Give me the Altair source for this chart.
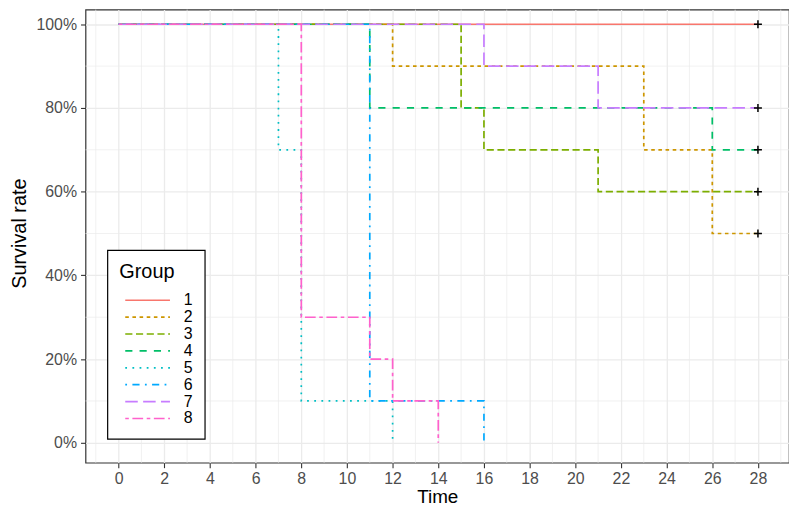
import altair as alt
import pandas as pd

# ---- data ----
groups = ["1", "2", "3", "4", "5", "6", "7", "8"]
g1_time = [0, 28];                 g1_surv = [1.0, 1.0]
g2_time = [0, 12, 23, 26, 28];     g2_surv = [1.0, 0.9, 0.7, 0.5, 0.5]
g3_time = [0, 15, 16, 21, 28];     g3_surv = [1.0, 0.8, 0.7, 0.6, 0.6]
g4_time = [0, 11, 26, 28];         g4_surv = [1.0, 0.8, 0.7, 0.7]
g5_time = [0, 7, 8, 12];           g5_surv = [1.0, 0.7, 0.1, 0.0]
g6_time = [0, 11, 16];             g6_surv = [1.0, 0.1, 0.0]
g7_time = [0, 16, 21, 28];         g7_surv = [1.0, 0.9, 0.8, 0.8]
g8_time = [0, 8, 11, 12, 14];      g8_surv = [1.0, 0.3, 0.2, 0.1, 0.0]

censor_groups = ["1", "2", "3", "4", "7"]
censor_time = [28, 28, 28, 28, 28]
censor_surv = [1.0, 0.5, 0.6, 0.7, 0.8]

x_major = list(range(0, 29, 2))
x_minor = list(range(-1, 30, 2))
y_major = [0, 0.2, 0.4, 0.6, 0.8, 1.0]
y_minor = [0.1, 0.3, 0.5, 0.7, 0.9]

colors = ["#F8766D", "#CD9600", "#7CAE00", "#00BE67",
          "#00BFC4", "#00A9FF", "#C77CFF", "#FF61CC"]
u = 1.8
dashes = [[1, 0], [2*u, 2*u], [4*u, 2*u], [4*u, 4*u], [1*u, 3*u],
          [1*u, 3*u, 4*u, 3*u], [7*u, 3*u], [2*u, 2*u, 6*u, 2*u]]

# ---- build tables ----
series = [(g1_time, g1_surv), (g2_time, g2_surv), (g3_time, g3_surv),
          (g4_time, g4_surv), (g5_time, g5_surv), (g6_time, g6_surv),
          (g7_time, g7_surv), (g8_time, g8_surv)]
rows = []
for g, (ts, ss) in zip(groups, series):
    for i, (t, s) in enumerate(zip(ts, ss)):
        rows.append({"Group": g, "Time": t, "Surv": s, "order": i})
df = pd.DataFrame(rows)
cens = pd.DataFrame({"Group": censor_groups, "Time": censor_time, "Surv": censor_surv})
xminor_df = pd.DataFrame({"v": x_minor})
yminor_df = pd.DataFrame({"v": y_minor})

FONT = "Liberation Sans"
xdom = [-1.45, 29.36]
ydom = [-0.0475, 1.035]
xscale = alt.Scale(domain=xdom, nice=False, zero=False)
yscale = alt.Scale(domain=ydom, nice=False, zero=False)

xaxis = alt.Axis(values=x_major, title="Time", titleY=40, titleBaseline="alphabetic",
                 titleFontSize=19, labelPadding=3)
yaxis = alt.Axis(values=y_major, format=".0%", title="Survival rate",
                 titleX=-60, titleY=225, titleBaseline="alphabetic", titleAngle=-90,
                 labelPadding=4)

minor_x = alt.Chart(xminor_df).mark_rule(color="#ebebeb", strokeWidth=0.7).encode(
    x=alt.X("v:Q", scale=xscale, axis=xaxis))
minor_y = alt.Chart(yminor_df).mark_rule(color="#ebebeb", strokeWidth=0.7).encode(
    y=alt.Y("v:Q", scale=yscale, axis=yaxis))

lines = alt.Chart(df).mark_line(interpolate="step-after", strokeWidth=1.7).encode(
    x=alt.X("Time:Q", scale=xscale, axis=xaxis),
    y=alt.Y("Surv:Q", scale=yscale, axis=yaxis),
    color=alt.Color("Group:N", scale=alt.Scale(domain=groups, range=colors),
                    legend=alt.Legend(title="Group")),
    strokeDash=alt.StrokeDash("Group:N", scale=alt.Scale(domain=groups, range=dashes),
                              legend=alt.Legend(title="Group")),
    order="order:Q",
)

points = alt.Chart(cens).mark_point(
    shape="M-1,0H1M0,-1V1", size=64, color="black", filled=False, strokeWidth=1.5,
    opacity=1).encode(
    x=alt.X("Time:Q", scale=xscale, axis=xaxis),
    y=alt.Y("Surv:Q", scale=yscale, axis=yaxis),
)

chart = alt.layer(minor_x, minor_y, lines, points).properties(
    width=708, height=456,
    autosize=alt.AutoSizeParams(type="none"),
    padding={"left": 78, "top": 0, "right": 0, "bottom": 44},
).configure_view(
    stroke="#333333", strokeWidth=1.2
).configure_axis(
    grid=True, gridColor="#ebebeb", gridWidth=1.3, domain=False,
    tickColor="#333333", tickWidth=1.1, tickSize=5,
    labelFont=FONT, labelFontSize=16, labelColor="#4d4d4d",
    titleFont=FONT, titleFontSize=20, titleFontWeight="normal", titleColor="black",
).configure_legend(
    orient="none", legendX=22, legendY=242,
    strokeColor="black", strokeWidth=1.2, fillColor="white",
    padding=12, titleFont=FONT, titleFontSize=20, titleFontWeight="normal",
    titleColor="black", titlePadding=10,
    labelFont=FONT, labelFontSize=16, labelColor="black",
    symbolType="M-1,0H5", symbolSize=225, symbolStrokeWidth=1.7,
    symbolOffset=5, labelOffset=43, rowPadding=0,
)

chart.save("out.html", embed_options={"renderer": "svg", "actions": False})
